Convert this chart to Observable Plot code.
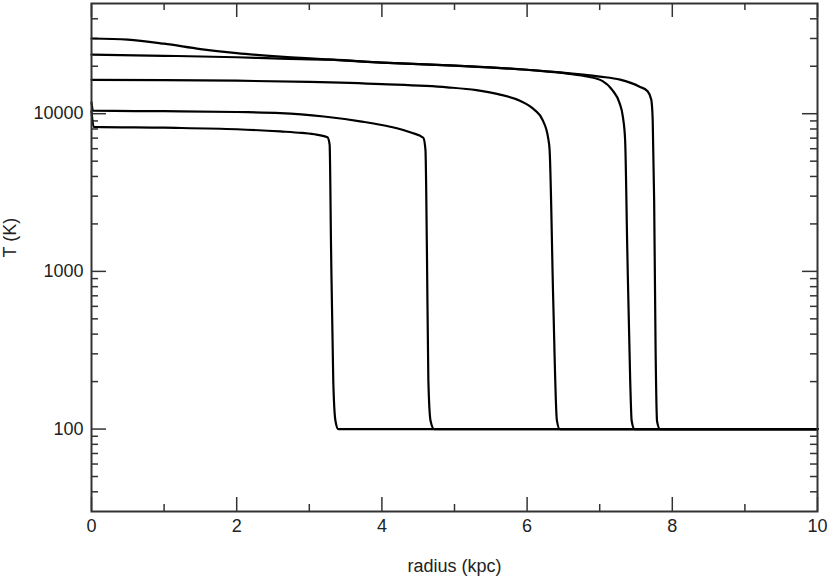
<!DOCTYPE html>
<html>
<head>
<meta charset="utf-8">
<script src="https://cdn.jsdelivr.net/npm/d3@7"></script>
<script src="https://cdn.jsdelivr.net/npm/@observablehq/plot@0.6"></script>
<style>
  html, body { margin: 0; padding: 0; background: #fff; }
  #chart svg { display: block; }
</style>
</head>
<body>
<div id="chart"></div>
<script>
// Curve A: T0 ~ 30000 K, cutoff ~7.45 kpc
const radiusA = [0, 0.5, 1.0, 1.5, 2.0, 2.6, 3.3, 4.0, 5.0, 6.0, 6.45, 6.8, 7.04, 7.18, 7.27, 7.32, 7.35, 7.38, 7.42, 7.44, 7.48, 10];
const tempA   = [30000, 29500, 27800, 25700, 24200, 23000, 22000, 21100, 20200, 19000, 18200, 17300, 16100, 14000, 11800, 9500, 6840, 1370, 204, 113, 100, 100];
// Curve B: T0 ~ 23700 K, cutoff ~7.8 kpc
const radiusB = [0, 1.0, 2.0, 2.6, 3.3, 4.0, 5.0, 6.0, 6.45, 7.0, 7.28, 7.55, 7.66, 7.71, 7.73, 7.75, 7.77, 7.79, 7.83, 10];
const tempB   = [23700, 23300, 22800, 22350, 22000, 21100, 20200, 19000, 18300, 17200, 16440, 14840, 13900, 12300, 9160, 2840, 317, 112, 100, 100];
// Curve C: T0 ~ 16400 K, cutoff ~6.43 kpc
const radiusC = [0, 1, 2, 3, 4, 4.9, 5.3, 5.6, 5.9, 6.1, 6.22, 6.29, 6.31, 6.36, 6.41, 6.45, 10];
const tempC   = [16400, 16350, 16200, 15900, 15400, 14700, 14100, 13300, 12100, 10600, 9000, 7000, 5900, 657, 114, 100, 100];
// Curve D: T0 ~ 10450 K, cutoff ~4.68 kpc
const radiusD = [0, 0.02, 1, 2, 2.6, 3.2, 3.7, 4.1, 4.4, 4.57, 4.6, 4.62, 4.64, 4.67, 4.72, 10];
const tempD   = [11800, 10450, 10370, 10250, 10100, 9600, 8950, 8300, 7600, 7040, 5900, 1370, 204, 113, 100, 100];
// Curve E: T0 ~ 8260 K, cutoff ~3.36 kpc
const radiusE = [0, 0.03, 1, 2, 2.6, 2.9, 3.1, 3.25, 3.28, 3.3, 3.33, 3.36, 3.4, 10];
const tempE   = [10400, 8260, 8150, 7970, 7720, 7550, 7360, 7090, 6360, 1370, 204, 113, 100, 100];

const xMajor = [0, 2, 4, 6, 8, 10];
const xMinor = [1, 3, 5, 7, 9];
const yMajor = [100, 1000, 10000];
const yMinor = [40, 50, 60, 70, 80, 90, 200, 300, 400, 500, 600, 700, 800, 900,
                2000, 3000, 4000, 5000, 6000, 7000, 8000, 9000, 20000, 30000, 40000];

const series = [
  ["A", radiusA, tempA], ["B", radiusB, tempB], ["C", radiusC, tempC],
  ["D", radiusD, tempD], ["E", radiusE, tempE]
];
const data = series.flatMap(([k, rs, ts]) => rs.map((r, i) => ({curve: k, r, T: ts[i]})));

const W = 830, H = 582;
const mL = 91, mR = 13, mT = 3, mB = 71;
const innerW = W - mL - mR, innerH = H - mT - mB;
const tickCol = "#333";
const font = "'Liberation Sans', Arial, Helvetica, sans-serif";

const chart = Plot.plot({
  width: W, height: H,
  marginLeft: mL, marginRight: mR, marginTop: mT, marginBottom: mB,
  style: {fontFamily: font, fontSize: "18px", color: "#222", background: "#fff"},
  x: {domain: [0, 10]},
  y: {type: "log", domain: [30, 50000]},
  marks: [
    Plot.tickX(xMajor, {x: d => d, insetTop: innerH - 14, stroke: tickCol, strokeWidth: 1.5}),
    Plot.tickX(xMajor, {x: d => d, insetBottom: innerH - 14, stroke: tickCol, strokeWidth: 1.5}),
    Plot.tickX(xMinor, {x: d => d, insetTop: innerH - 7, stroke: tickCol, strokeWidth: 1.5}),
    Plot.tickX(xMinor, {x: d => d, insetBottom: innerH - 7, stroke: tickCol, strokeWidth: 1.5}),
    Plot.tickY(yMajor, {y: d => d, insetRight: innerW - 15, stroke: tickCol, strokeWidth: 1.5}),
    Plot.tickY(yMajor, {y: d => d, insetLeft: innerW - 15, stroke: tickCol, strokeWidth: 1.5}),
    Plot.tickY(yMinor, {y: d => d, insetRight: innerW - 7, stroke: tickCol, strokeWidth: 1.5}),
    Plot.tickY(yMinor, {y: d => d, insetLeft: innerW - 7, stroke: tickCol, strokeWidth: 1.5}),
    Plot.axisX({ticks: xMajor, tickSize: 0, tickPadding: 8, label: null, fontSize: 18, tickFormat: d => String(d)}),
    Plot.axisY({ticks: yMajor, tickSize: 0, tickPadding: 8, label: null, fontSize: 18, tickFormat: d => String(d)}),
    Plot.line(data, {x: "r", y: "T", z: "curve", stroke: "#000", strokeWidth: 2.2, curve: "monotone-x"}),
    Plot.frame({stroke: tickCol, strokeWidth: 2}),
    Plot.text(["radius (kpc)"], {frameAnchor: "bottom", dy: 60, fontSize: 18, fill: "#222"}),
    Plot.text(["T (K)"], {frameAnchor: "left", dx: -81, rotate: -90, fontSize: 18, fill: "#222"})
  ]
});
document.getElementById("chart").appendChild(chart);
</script>
</body>
</html>
